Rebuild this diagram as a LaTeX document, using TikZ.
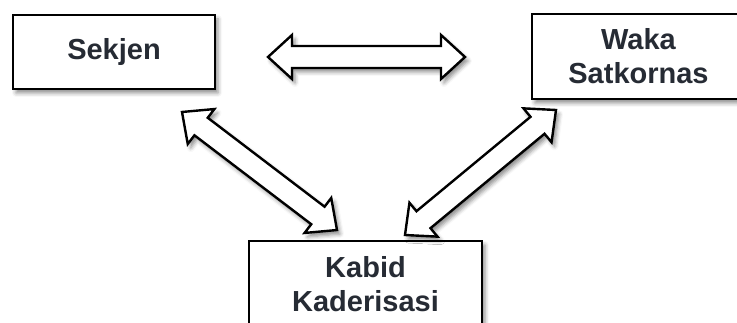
\documentclass[tikz,border=0pt]{standalone}
\usepackage{fontspec}
\setmainfont{Liberation Sans}
\usetikzlibrary{calc,shadows.blur}
\definecolor{txt}{RGB}{38,43,52}
\tikzset{
  box/.style={draw=black, line width=2pt, fill=white, inner sep=0pt,
    font=\fontsize{29}{34}\selectfont\bfseries, text=txt, align=center,
    blur shadow={shadow xshift=3pt, shadow yshift=-4pt, shadow blur radius=4pt, shadow opacity=45}},
  blockarrow/.style={draw=black, line width=2.4pt, fill=white, line join=miter,
    blur shadow={shadow xshift=3pt, shadow yshift=-4pt, shadow blur radius=4pt, shadow opacity=45}}
}
\newcommand\hl{24pt}
\newcommand\hw{22pt}
\newcommand\sw{11pt}
\newcommand\blockarrow[2]{%
  \path[blockarrow] (#1)
    -- ($(#1)!\hl!(#2)!\hw!90:(#2)$)
    -- ($(#1)!\hl!(#2)!\sw!90:(#2)$)
    -- ($(#2)!\hl!(#1)!\sw!-90:(#1)$)
    -- ($(#2)!\hl!(#1)!\hw!-90:(#1)$)
    -- (#2)
    -- ($(#2)!\hl!(#1)!\hw!90:(#1)$)
    -- ($(#2)!\hl!(#1)!\sw!90:(#1)$)
    -- ($(#1)!\hl!(#2)!\sw!-90:(#2)$)
    -- ($(#1)!\hl!(#2)!\hw!-90:(#2)$)
    -- cycle;}
\begin{document}
\begin{tikzpicture}[x=1pt,y=-1pt]
\useasboundingbox (0,0) rectangle (737,323);
\clip (0,0) rectangle (737,323);
\node[box, minimum width=202pt, minimum height=74pt] (sekjen) at (114,52) {Sekjen};
\node[box, minimum width=213pt, minimum height=85pt] (waka) at (638.5,56.5) {Waka\\Satkornas};
\node[box, minimum width=233pt, minimum height=86pt] (kabid) at (365.5,284) {Kabid\\Kaderisasi};
\coordinate (h1) at (268,57);
\coordinate (h2) at (465,57);
\coordinate (d1) at (182,112);
\coordinate (d2) at (337,230);
\coordinate (e1) at (556,110);
\coordinate (e2) at (405,235);
\blockarrow{h1}{h2}
\blockarrow{d1}{d2}
\blockarrow{e1}{e2}
\end{tikzpicture}
\end{document}
